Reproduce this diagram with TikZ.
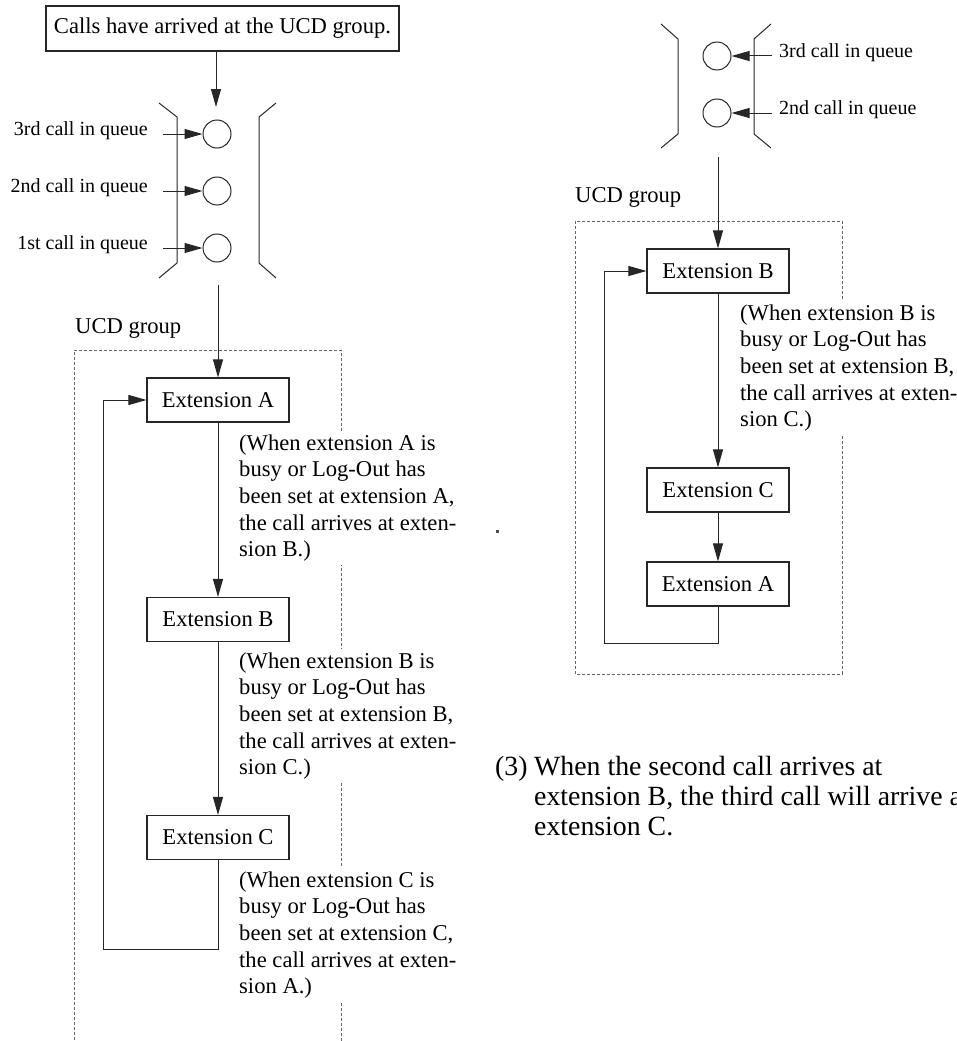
\documentclass[tikz,border=0pt]{standalone}
\usepackage{fontspec}
\setmainfont{Liberation Serif}
\usetikzlibrary{arrows.meta}
\newcommand\diag{\fontsize{22.6}{26.7}\selectfont}
\newcommand\qtxt{\fontsize{20}{24}\selectfont}
\newcommand\bigtxt{\fontsize{27.8}{30}\selectfont}
\newcommand\annlines[2]{\vtop{\baselineskip=#1\halign{##\hfil\cr#2\crcr}}}
\begin{document}
\begin{tikzpicture}[x=1pt,y=-1pt,
  ln/.style={line width=1pt, draw=black!85},
  arr/.style={ln, -{Triangle[length=18pt,width=10pt]}},
  extbox/.style={draw=black!85, line width=1.1pt, minimum width=142pt, minimum height=44pt, inner sep=0pt, font=\diag},
  qcirc/.style={circle, draw=black!85, line width=1pt, minimum size=28pt, inner sep=0pt},
  dashbox/.style={draw=black!60, line width=0.9pt, dash pattern=on 3pt off 2pt},
  lbl/.style={font=\diag, inner sep=0pt},
  qlbl/.style={font=\qtxt, inner sep=0pt},
  ann/.style={font=\diag, fill=white, inner sep=3pt, anchor=base west},
]
\useasboundingbox (0,0) rectangle (956,1041);
\clip (0,0) rectangle (956,1041);

% ---------------- left diagram ----------------
\node[draw=black!85, line width=1.1pt, minimum width=353pt, minimum height=45pt, inner sep=0pt, font=\diag] (top) at (222.5,28.5) {Calls have arrived at the UCD group.};
\coordinate (lqin) at (216,107);
\draw[arr] (top.south -| lqin) -- (lqin);

% brackets
\draw[ln] (159,103) -- (177,117) -- (177,263) -- (159,278);
\draw[ln] (276,103) -- (259,117) -- (259,263) -- (276,278);

% queue circles
\node[qcirc] (lq3) at (217,134) {};
\node[qcirc] (lq2) at (217,191) {};
\node[qcirc] (lq1) at (217,248) {};
\node[qlbl, anchor=mid east] (lq3l) at (148,133) {3rd call in queue};
\node[qlbl, anchor=mid east] (lq2l) at (148,190) {2nd call in queue};
\node[qlbl, anchor=mid east] (lq1l) at (148,247) {1st call in queue};
\coordinate (lq3s) at (163,134);
\coordinate (lq2s) at (163,191);
\coordinate (lq1s) at (163,248);
\draw[arr] (lq3s) -- (lq3);
\draw[arr] (lq2s) -- (lq2);
\draw[arr] (lq1s) -- (lq1);

% UCD group box
\node[lbl, anchor=base west] (lucd) at (75,333) {UCD group};
\draw[dashbox] (74,1080) -- (74,350) -- (341,350) -- (341,1080);

\node[extbox] (lA) at (218,400) {Extension A};
\node[extbox] (lB) at (218,619.5) {Extension B};
\node[extbox] (lC) at (218,837.5) {Extension C};

\coordinate (lqout) at (218,285);
\draw[arr] (lqout) -- (lA);
\draw[arr] (lA) -- (lB);
\draw[arr] (lB) -- (lC);
\coordinate (lloop) at (103,949);
\draw[arr] (lC.south) |- (lloop) |- (lA.west);

\node[ann] (annA) at (236,450) {\annlines{26.7pt}{(When extension A is\cr busy or Log-Out has\cr been set at extension A,\cr the call arrives at exten-\cr sion B.)}};
\node[ann] (annB) at (236,668) {\annlines{26.7pt}{(When extension B is\cr busy or Log-Out has\cr been set at extension B,\cr the call arrives at exten-\cr sion C.)}};
\node[ann] (annC) at (236,887) {\annlines{26.7pt}{(When extension C is\cr busy or Log-Out has\cr been set at extension C,\cr the call arrives at exten-\cr sion A.)}};

% stray dot
\fill[black!70] (496,530) rectangle (499,532.5);

% ---------------- right diagram ----------------
\draw[ln] (661,24) -- (678,39) -- (678,134) -- (661,148);
\draw[ln] (771,24) -- (754,39) -- (754,134) -- (771,148);
\node[qcirc] (rq3) at (717,56) {};
\node[qcirc] (rq2) at (717,113) {};
\node[qlbl, anchor=mid west] (rq3l) at (779,55) {3rd call in queue};
\node[qlbl, anchor=mid west] (rq2l) at (779,112) {2nd call in queue};
\coordinate (rq3s) at (772,56);
\coordinate (rq2s) at (772,113);
\draw[arr] (rq3s) -- (rq3);
\draw[arr] (rq2s) -- (rq2);

\node[lbl, anchor=base west] (rucd) at (575,202) {UCD group};
\draw[dashbox] (575,221) rectangle (842,674);

\node[extbox] (rB) at (718,271) {Extension B};
\node[extbox] (rC) at (718,490) {Extension C};
\node[extbox] (rA) at (718,584) {Extension A};
\coordinate (rqout) at (718,157);
\draw[arr] (rqout) -- (rB);
\draw[arr] (rB) -- (rC);
\draw[arr] (rC) -- (rA);
\coordinate (rloop) at (604,643);
\draw[arr] (rA.south) |- (rloop) |- (rB.west);

\node[ann] (annR) at (737,320) {\annlines{26.7pt}{(When extension B is\cr busy or Log-Out has\cr been set at extension B,\cr the call arrives at exten-\cr sion C.)}};

% caption
\node[font=\bigtxt, inner sep=0pt, anchor=base west] (cap3) at (495,775) {(3)};
\node[font=\bigtxt, inner sep=0pt, anchor=base west] (capt) at (534,775) {\annlines{30pt}{When the second call arrives at\cr extension B, the third call will arrive at\cr extension C.}};
\end{tikzpicture}
\end{document}
